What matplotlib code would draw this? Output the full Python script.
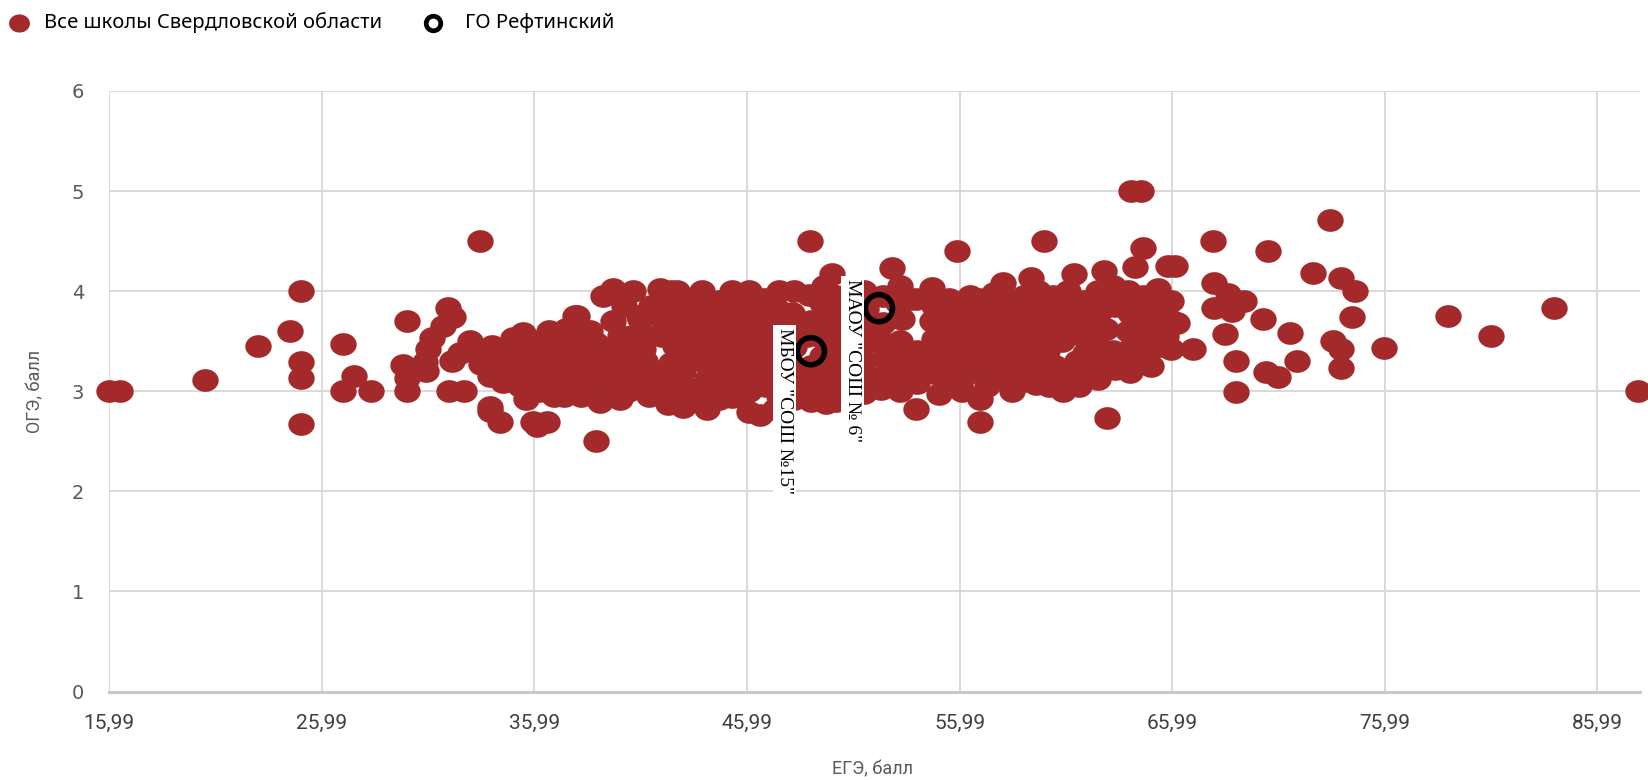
import matplotlib
matplotlib.use('Agg')
import matplotlib.pyplot as plt
from matplotlib.lines import Line2D
from matplotlib.path import Path
import numpy as np

# --- data: ЕГЭ (x) vs ОГЭ (y) ---
ege_west = [16.0, 16.5, 20.5, 23.0, 24.5, 25.0, 25.0, 25.0, 25.0, 27.0, 27.0, 27.5,
            28.3, 29.8, 30.0, 30.0, 30.0, 30.9, 31.0, 30.85, 31.2, 31.7, 31.95, 32.15,
            32.0, 32.7, 32.5, 32.1, 32.95, 33.45, 33.5, 33.9, 34.4, 33.8, 33.9]
oge_west = [3.0, 3.0, 3.11, 3.45, 3.60, 4.0, 3.29, 3.13, 2.67, 3.47, 3.0, 3.15,
            3.0, 3.26, 3.70, 3.0, 3.13, 3.2, 3.42, 3.29, 3.53, 3.65, 3.83, 3.74,
            3.0, 3.0, 3.38, 3.3, 3.5, 4.5, 3.27, 2.84, 2.69, 3.3, 3.15]

ege_mid = [35.47, 35.0, 35.94, 34.7, 34.2, 35.3, 35.7, 36.25, 34.5, 35.3, 35.95, 36.57,
           35.6, 35.94, 36.57, 34.9, 35.7, 37.9, 37.43, 37.35, 37.98, 37.98, 37.2, 38.9,
           39.24, 39.7, 40.64, 41.9, 40.96, 40.0, 38.9, 38.5, 38.1, 39.0, 39.9, 40.5,
           41.1, 41.4, 41.9, 42.0, 38.8, 39.3, 40.2, 41.1, 41.7, 39.07, 40.0, 41.4,
           42.3, 37.8, 36.8, 37.0, 36.3, 34.0, 38.5, 39.5, 40.8, 40.4, 38.2, 36.9,
           37.5, 38.0, 40.9, 36.1, 33.9, 42.7,
           36.0, 36.6, 37.0, 37.6, 38.0, 38.3, 38.9, 39.4, 39.6, 40.3, 40.6, 41.2,
           41.6, 42.0, 36.2, 39.9, 37.4, 40.9, 35.1, 34.6, 33.4, 36.7, 38.6, 39.7,
           41.5, 40.2]
oge_mid = [3.58, 3.53, 3.50, 3.42, 3.35, 3.43, 3.40, 3.35, 3.09, 3.05, 3.09, 3.05,
           2.92, 2.69, 2.69, 3.2, 3.2, 3.75, 3.60, 3.35, 3.25, 3.05, 3.15, 2.50,
           3.95, 4.02, 4.0, 4.02, 3.72, 3.55, 3.48, 3.42, 3.33, 3.30, 3.35, 3.42,
           3.42, 3.55, 3.75, 3.9, 3.1, 3.15, 3.1, 3.15, 3.05, 2.89, 2.92, 2.95,
           2.87, 3.02, 3.25, 3.45, 3.2, 3.45, 3.2, 3.25, 3.28, 3.0, 2.95, 2.95,
           3.62, 3.75, 3.75, 2.65, 2.8, 4.0,
           3.3, 3.45, 3.1, 3.3, 3.45, 3.05, 3.25, 3.42, 3.05, 3.25, 3.55, 3.3,
           3.2, 3.55, 3.0, 3.15, 2.95, 3.05, 3.3, 3.2, 3.4, 3.6, 3.6, 3.7,
           3.85, 3.85]

ege_core = [42.4, 42.5, 42.3, 42.6, 42.4, 42.5, 42.3,
            43.2, 43.1, 43.3, 43.2, 43.0, 43.3, 43.0,
            43.9, 44.0, 43.8, 44.0, 43.9, 44.1, 43.9, 44.1,
            44.7, 44.6, 44.8, 44.7, 44.6, 44.8, 44.7,
            45.3, 45.4, 45.2, 45.4, 45.3, 45.5, 45.7, 45.3,
            46.1, 46.0, 46.2, 46.1, 46.0, 46.2, 46.1, 46.1,
            46.8, 46.7, 46.9, 46.8, 46.7, 46.9, 46.6,
            47.5, 47.4, 47.6, 47.5, 47.4, 47.6, 47.5, 47.3,
            48.2, 48.1, 48.3, 48.2, 48.1, 48.3, 48.2,
            48.9, 49.0, 48.8, 49.0, 48.9, 49.0,
            49.6, 49.5, 49.7, 49.6, 49.5, 49.7, 49.6, 49.7,
            50.2, 50.3, 50.2, 50.3, 50.2, 50.3, 50.2,
            48.95, 49.97]
oge_core = [4.0, 3.82, 3.62, 3.45, 3.28, 3.12, 2.96,
            3.92, 3.72, 3.55, 3.38, 3.2, 3.02, 2.84,
            4.0, 3.82, 3.64, 3.47, 3.3, 3.12, 2.95, 2.82,
            3.9, 3.72, 3.55, 3.37, 3.2, 3.03, 2.92,
            4.0, 3.8, 3.62, 3.45, 3.28, 3.1, 3.05, 2.94,
            4.0, 3.85, 3.68, 3.5, 3.33, 3.16, 3.0, 2.79,
            3.92, 3.74, 3.57, 3.4, 3.22, 3.05, 2.76,
            4.0, 3.82, 3.64, 3.46, 3.3, 3.12, 2.95, 2.82,
            4.0, 3.78, 3.6, 3.44, 3.26, 3.1, 2.92,
            3.96, 3.7, 3.55, 3.25, 3.08, 2.9,
            4.05, 3.88, 3.7, 3.52, 3.35, 3.18, 3.0, 2.88,
            3.95, 3.78, 3.6, 3.42, 3.25, 3.05, 2.9,
            4.5, 4.17]

ege_east = [51.5, 51.6, 51.5, 51.6, 51.5, 51.6, 51.5,
            52.4, 52.4, 52.3, 52.5, 52.4, 52.3, 52.8,
            53.2, 53.1, 53.3, 53.2, 53.1, 53.3, 53.2,
            53.96, 54.0, 53.9, 54.0, 53.96, 53.65,
            54.7, 54.8, 54.7, 54.8, 54.7, 54.8, 55.0,
            55.5, 55.4, 55.6, 55.5, 55.4, 55.6, 55.85,
            56.2, 56.3, 56.1, 56.3, 56.2, 56.1,
            56.9, 57.0, 56.8, 57.0, 56.9, 56.94, 56.94,
            57.6, 57.7, 57.5, 57.7, 57.6, 57.5,
            58.04, 58.3, 58.2, 58.4, 58.3, 58.2, 58.46,
            59.0, 59.1, 59.0, 59.1, 59.0, 59.37, 59.6, 59.95,
            59.7, 59.8, 59.7, 59.8, 59.7, 59.8,
            60.4, 60.5, 60.4, 60.5, 60.4, 60.87,
            61.1, 61.2, 61.1, 61.2, 61.1, 61.36,
            61.8, 61.9, 61.8, 61.9, 61.8,
            62.5, 62.6, 62.5, 62.6, 62.5, 62.8, 62.94,
            63.2, 63.3, 63.2, 63.3,
            63.9, 64.0, 63.9, 64.0, 64.0,
            64.6, 64.7, 64.6, 64.7, 64.07, 64.54, 64.6, 64.25,
            65.3, 65.4, 65.3, 65.4,
            65.95, 66.0, 65.95, 66.2, 66.97, 65.8, 66.1,
            55.1, 55.9, 56.6, 57.3, 57.9, 58.7, 59.4, 60.1, 60.8, 61.5, 62.2, 62.9,
            63.6, 64.3, 65.0, 60.2, 61.6, 58.8, 60.9, 62.2, 63.6, 64.9, 65.7, 56.5,
            55.2, 57.3]
oge_east = [4.0, 3.82, 3.65, 3.48, 3.3, 3.12, 2.98,
            3.95, 3.68, 3.5, 3.33, 3.15, 3.02, 4.23,
            4.05, 3.88, 3.72, 3.5, 3.36, 3.18, 3.0,
            3.92, 3.4, 3.25, 3.08, 2.82, 3.92,
            4.03, 3.85, 3.7, 3.52, 3.35, 3.18, 2.97,
            3.92, 3.75, 3.58, 3.4, 3.22, 3.05, 4.4,
            3.85, 3.68, 3.5, 3.32, 3.15, 3.0,
            3.92, 3.74, 3.56, 3.4, 3.22, 2.92, 2.69,
            3.98, 3.8, 3.62, 3.45, 3.28, 3.12,
            4.08, 3.9, 3.7, 3.5, 3.35, 3.18, 3.0,
            3.95, 3.6, 3.42, 3.25, 3.1, 4.13, 3.07, 4.5,
            4.0, 3.85, 3.68, 3.5, 3.33, 3.17,
            3.95, 3.76, 3.58, 3.25, 3.1, 3.0,
            4.0, 3.82, 3.64, 3.2, 3.05, 4.17,
            3.9, 3.72, 3.55, 3.38, 3.22,
            4.0, 3.8, 3.45, 3.28, 3.12, 4.2, 2.73,
            4.05, 3.85, 3.4, 3.22,
            4.0, 3.78, 3.6, 3.42, 3.19,
            3.95, 3.75, 3.55, 3.35, 5.0, 5.0, 4.43, 4.24,
            4.02, 3.82, 3.62, 3.45,
            3.9, 3.7, 3.42, 3.68, 3.42, 4.25, 4.25,
            3.3, 3.12, 3.28, 3.05, 3.25, 3.3, 3.35, 3.4, 3.5, 3.3, 3.55, 3.62,
            3.3, 3.5, 3.25, 3.05, 3.05, 3.8, 3.9, 3.9, 3.95, 3.9, 3.55, 3.95,
            3.65, 3.55]

ege_far = [67.9, 70.5, 72.6, 73.4, 73.94, 74.6, 67.96, 68.6, 69.36, 67.96, 68.8, 70.26,
           68.46, 71.55, 71.85, 68.97, 70.4, 70.96, 68.97, 73.55, 73.94, 73.94, 74.45,
           75.96, 78.97, 80.96, 83.94, 87.9]
oge_far = [4.5, 4.4, 4.18, 4.71, 4.13, 4.0, 4.08, 3.97, 3.9, 3.83, 3.8, 3.72,
           3.57, 3.58, 3.3, 3.3, 3.19, 3.14, 2.99, 3.5, 3.42, 3.23, 3.74,
           3.43, 3.75, 3.55, 3.83, 3.0]

# ГО Рефтинский
refta_ege = [49.0, 52.2]
refta_oge = [3.40, 3.83]
refta_names = ['МБОУ "СОШ №15"', 'МАОУ "СОШ № 6"']

x_ticks = [15.99, 25.99, 35.99, 45.99, 55.99, 65.99, 75.99, 85.99]
x_tick_labels = ['15,99', '25,99', '35,99', '45,99', '55,99', '65,99', '75,99', '85,99']
y_ticks = [0, 1, 2, 3, 4, 5, 6]

RED = '#a3292a'
GRID = '#d9d9d9'
TICK = '#595959'
narrow = ['Liberation Sans Narrow', 'Roboto', 'DejaVu Sans']

# slightly wide ellipse marker, like the stretched Excel dots
theta = np.linspace(0, 2 * np.pi, 64)
ellipse = Path(np.column_stack([np.cos(theta), 0.86 * np.sin(theta)]))

W, H = 1648, 780
fig = plt.figure(figsize=(W / 100, H / 100), dpi=100)
ax = fig.add_axes([109 / W, 1 - 691.5 / H, (1640 - 109) / W, (691.5 - 91) / H])

all_x = ege_west + ege_mid + ege_core + ege_east + ege_far
all_y = oge_west + oge_mid + oge_core + oge_east + oge_far
ax.scatter(all_x, all_y, s=19 ** 2, marker=ellipse, color=RED, linewidths=0,
           zorder=3, clip_on=False)
ax.scatter(refta_ege, refta_oge, s=19.5 ** 2, marker='o', facecolors='none',
           edgecolors='black', linewidths=4, zorder=4, clip_on=False)

offsets = [(-19, 16.5), (-19, 21)]
for x, y, name, off in zip(refta_ege, refta_oge, refta_names, offsets):
    ax.annotate(name, (x, y), xytext=off, textcoords='offset points',
                rotation=-90, ha='center', va='top', fontsize=14,
                family='Liberation Serif', zorder=5,
                bbox=dict(boxstyle='square,pad=0.15', fc='white', ec='none'))

ax.set_xlim(15.99, 87.99)
ax.set_ylim(0, 6)
ax.set_xticks(x_ticks)
ax.set_xticklabels(x_tick_labels)
ax.set_yticks(y_ticks)
ax.grid(True, color=GRID, lw=1.4)
ax.set_axisbelow(True)
for side in ['top', 'right', 'left']:
    ax.spines[side].set_visible(False)
ax.spines['bottom'].set_color('#c8c8c8')
ax.spines['bottom'].set_linewidth(2.2)
ax.tick_params(length=0)
ax.tick_params(axis='x', pad=16, labelsize=15, labelcolor='#404040')
ax.tick_params(axis='y', pad=18, labelsize=14, labelcolor=TICK)
for lab in ax.get_xticklabels():
    lab.set_family(narrow)

fig.text(872 / W, 1 - 769 / H, 'ЕГЭ, балл', ha='center', va='center',
         fontsize=13, color=TICK, family=narrow)
fig.text(35 / W, 1 - 391 / H, 'ОГЭ, балл', ha='center', va='center',
         rotation=90, fontsize=13, color=TICK, family=narrow)

# legend on top
fig.add_artist(Line2D([19 / W], [1 - 23 / H], transform=fig.transFigure,
                      marker=ellipse, ms=14, color=RED, lw=0))
fig.text(44 / W, 1 - 23 / H, 'Все школы Свердловской области', va='center',
         fontsize=14.5, color='black', family='Noto Sans')
fig.add_artist(Line2D([433 / W], [1 - 23 / H], transform=fig.transFigure,
                      marker='o', ms=10.5, mfc='white', mec='black', mew=3.4, lw=0))
fig.text(465 / W, 1 - 23 / H, 'ГО Рефтинский', va='center',
         fontsize=14.5, color='black', family='Noto Sans')

fig.savefig('out.png', dpi=100)
